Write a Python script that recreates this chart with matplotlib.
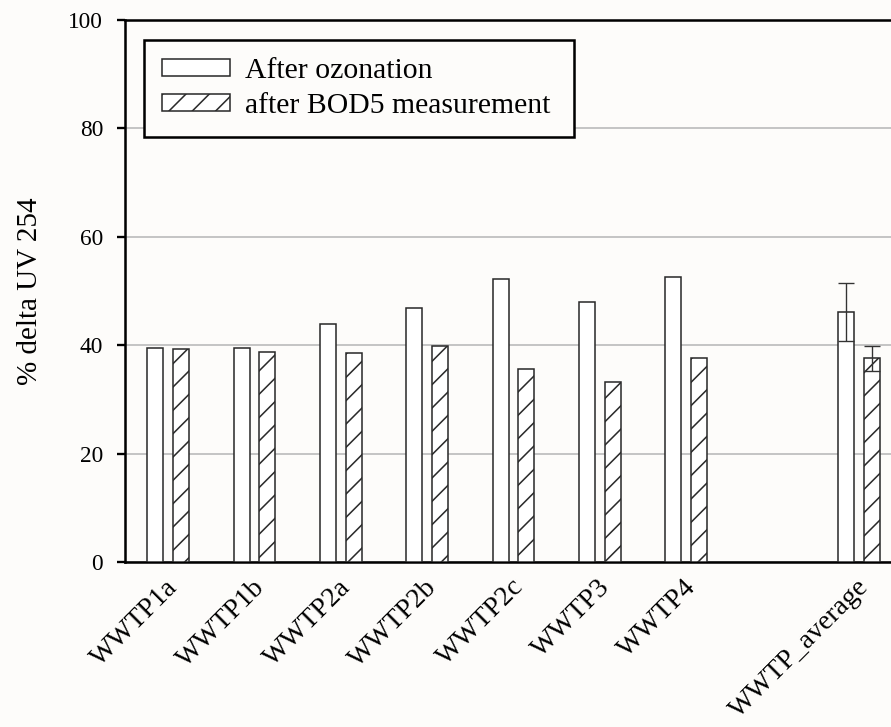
import matplotlib
matplotlib.use("Agg")
import matplotlib.pyplot as plt
import numpy as np

# Plant samples and average
categories = ["WWTP1a", "WWTP1b", "WWTP2a", "WWTP2b", "WWTP2c", "WWTP3", "WWTP4", "WWTP_average"]
positions = [0, 1, 2, 3, 4, 5, 6, 8]

after_ozonation = [39.5, 39.4, 44.0, 46.9, 52.2, 48.0, 52.6, 46.1]
after_bod5 = [39.3, 38.7, 38.5, 39.8, 35.7, 33.2, 37.7, 37.6]

# Standard deviation shown only for the average group
ozonation_err = [0, 0, 0, 0, 0, 0, 0, 5.4]
bod5_err = [0, 0, 0, 0, 0, 0, 0, 2.3]

yticks = [0, 20, 40, 60, 80, 100]

plt.rcParams["font.family"] = ["Liberation Serif", "DejaVu Serif"]
plt.rcParams["hatch.linewidth"] = 0.8
plt.rcParams["hatch.color"] = "#222222"

DPI = 140
fig = plt.figure(figsize=(892 / DPI, 727 / DPI), dpi=DPI, facecolor="#fdfcfa")
ax = fig.add_axes([125 / 892, 165 / 727, 777 / 892, 542 / 727])
ax.set_facecolor("#fdfcfa")

pos = np.array(positions, dtype=float)
width = 0.185
offset = 0.15
edge = "#2a2a2a"

ax.bar(pos - offset, after_ozonation, width, color="white", edgecolor=edge,
       linewidth=0.8, label="After ozonation", zorder=3)
ax.bar(pos + offset, after_bod5, width, color="white", edgecolor=edge,
       linewidth=0.8, hatch="//", label="after BOD5 measurement", zorder=3)

# Error bars on the average group
ax.errorbar(pos[-1:] - offset, after_ozonation[-1:], yerr=ozonation_err[-1:], fmt="none",
            ecolor="#333333", elinewidth=0.7, capsize=4.2, capthick=0.7, zorder=4)
ax.errorbar(pos[-1:] + offset, after_bod5[-1:], yerr=bod5_err[-1:], fmt="none",
            ecolor="#333333", elinewidth=0.7, capsize=4.2, capthick=0.7, zorder=4)

ax.set_xlim(-0.5, 8.5)
ax.set_ylim(0, 100)
ax.set_yticks(yticks)
ax.set_yticklabels([str(v) for v in yticks], fontsize=12)
ax.yaxis.grid(True, color="#c4c4c4", linewidth=1.0, zorder=0)
ax.set_axisbelow(True)

# Invisible x ticks, nudged slightly right so the slanted labels end past the group centre
ax.set_xticks(pos + 0.07)
ax.set_xticklabels(categories, rotation=45, ha="right", va="center",
                   rotation_mode="anchor", fontsize=14.3)
ax.tick_params(axis="x", length=0, pad=11)
ax.tick_params(axis="y", direction="out", length=4.2, width=1.2, pad=7, colors="black")

for side in ["left", "top", "bottom"]:
    ax.spines[side].set_linewidth(1.3)
    ax.spines[side].set_color("black")
ax.spines["right"].set_visible(False)

ax.set_ylabel("% delta UV 254", fontsize=15, labelpad=13)

leg = ax.legend(loc="upper left",
                bbox_to_anchor=(144 / 892, 1 - 137 / 727, 430 / 892, 97 / 727),
                bbox_transform=fig.transFigure, mode="expand", borderaxespad=0,
                fontsize=15.3, frameon=True, fancybox=False, framealpha=1,
                edgecolor="black", handlelength=2.3, handleheight=0.52,
                handletextpad=0.5, borderpad=0.6, labelspacing=0.32)
leg.get_frame().set_linewidth(1.3)
leg.get_frame().set_facecolor("#fdfcfa")

fig.savefig("out.png", dpi=DPI, facecolor=fig.get_facecolor())
